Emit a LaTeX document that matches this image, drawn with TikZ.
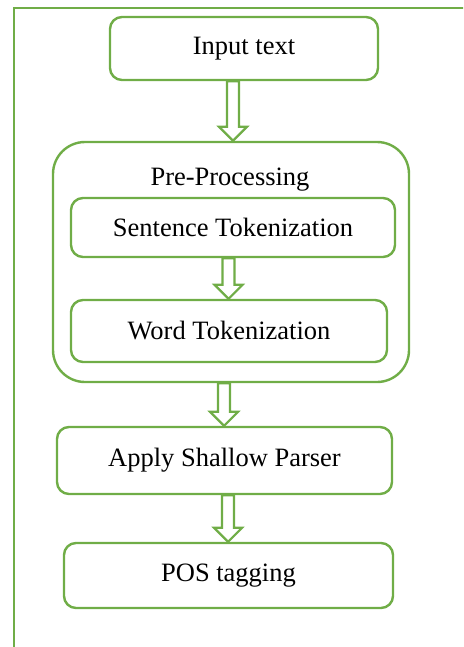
\documentclass[tikz,border=0pt]{standalone}
\usepackage{fontspec}
\setmainfont{Liberation Serif}
\usetikzlibrary{positioning,calc}
\definecolor{boxgreen}{HTML}{70AD47}

\tikzset{
  procbox/.style 2 args={draw=boxgreen, line width=2.4pt, rounded corners=12pt,
    minimum width=#1pt, minimum height=#2pt, inner sep=0pt,
    font=\fontsize{26.5}{30}\selectfont},
  groupbox/.style={draw=boxgreen, line width=2.4pt, rounded corners=32pt,
    minimum width=356pt, minimum height=240pt},
  hollow/.style={draw=boxgreen, line width=2.2pt, fill=white, line join=miter}
}
% hollow block arrow at x = #1, from node #2 down to node #3
\newcommand{\blockarrow}[3]{%
  \path[hollow] let \p1=(#2.south), \p2=(#3.north) in
    ({#1pt-6pt},\y1) -- ({#1pt-6pt},{\y2+14pt}) -- ({#1pt-14pt},{\y2+14pt})
    -- (#1pt,\y2) -- ({#1pt+14pt},{\y2+14pt}) -- ({#1pt+6pt},{\y2+14pt})
    -- ({#1pt+6pt},\y1) -- cycle;}

\begin{document}
\begin{tikzpicture}[x=1pt,y=-1pt]
  \useasboundingbox (0,0) rectangle (463,647);
  \clip (0,0) rectangle (463,647);
  % Page frame, running off the right and bottom edges
  \draw[boxgreen, line width=2.6pt] (14,8) rectangle (480,670);

  % The steps
  \node[procbox={268}{63}] (input) at (244,48.5) {Input text};
  \node[groupbox] (pre) at (231,262) {};
  \node[font=\fontsize{26.5}{30}\selectfont] (prelabel) at (230,180) {Pre-Processing};
  \node[procbox={324}{59}] (sent) at (233,227.5) {Sentence Tokenization};
  \node[procbox={316}{62}] (word) at (229,331) {Word Tokenization};
  \node[procbox={335}{67}] (parser) at (224.5,460.5) {Apply Shallow Parser};
  \node[procbox={329}{65}] (pos) at (228.5,575.5) {POS tagging};

  % Arrows between the steps
  \blockarrow{233}{input}{pre}
  \blockarrow{228.5}{sent}{word}
  \blockarrow{224}{pre}{parser}
  \blockarrow{228}{parser}{pos}
\end{tikzpicture}
\end{document}
